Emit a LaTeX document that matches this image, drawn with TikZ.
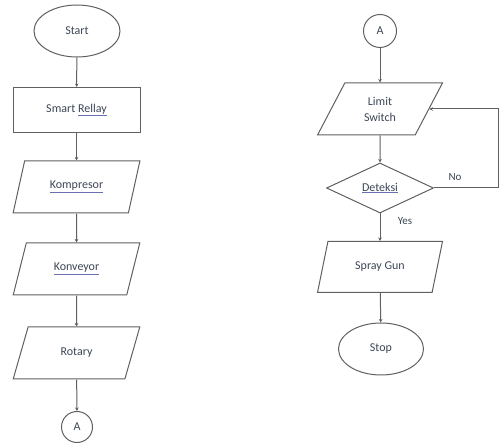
\documentclass[tikz,border=0pt]{standalone}
\usepackage{fontspec}
\setmainfont{Carlito}
\usetikzlibrary{shapes.geometric,arrows.meta}
\definecolor{txt}{HTML}{3C4656}
\definecolor{ln}{HTML}{606060}
\definecolor{ulc}{HTML}{6A6FB0}
\newcommand\spl[1]{{\color{ulc}\underline{{\color{txt}#1}}}}
\begin{document}
\begin{tikzpicture}[x=1pt,y=1pt,
  base/.style={draw=ln,line width=1pt,text=txt,font=\fontsize{12}{14}\selectfont,align=center,inner sep=0pt},
  term/.style={base,ellipse,minimum width=86pt,minimum height=52pt},
  proc/.style={base,rectangle,minimum width=127pt,minimum height=45pt},
  io/.style={base,trapezium,trapezium left angle=63,trapezium right angle=117,trapezium stretches=true,minimum width=127pt,minimum height=52pt},
  dec/.style={base,diamond,minimum width=107pt,minimum height=50pt},
  conn/.style={base,circle,minimum size=33pt},
  arr/.style={draw=ln,line width=1pt,-{Stealth[length=3.5pt,width=3.5pt]}},
  lbl/.style={text=txt,font=\fontsize{11}{13}\selectfont,inner sep=0pt}]
\useasboundingbox (0,0) rectangle (500,444);
% left column
\node[term] (start) at (77,413) {Start};
\node[proc] (smart) at (76.5,334) {Smart \spl{Rellay}};
\node[io] (komp) at (76.5,257) {\spl{Kompresor}};
\node[io] (konv) at (76.5,175) {\spl{Konveyor}};
\node[io] (rot) at (76.5,91) {Rotary};
\node[conn,minimum size=31pt] (a1) at (77,17) {A};
\draw[arr] (start) -- (smart);
\draw[arr] (smart) -- (komp);
\draw[arr] (komp) -- (konv);
\draw[arr] (konv) -- (rot);
\draw[arr] (rot) -- (a1);
% right column
\node[conn] (a2) at (380,413) {A};
\node[io,minimum width=125pt] (lim) at (380,335) {Limit\\[2pt]Switch};
\node[dec] (det) at (380,256) {\spl{Deteksi}};
\node[io,minimum width=125pt,minimum height=51pt] (spray) at (380,177) {Spray Gun};
\node[term,minimum width=85pt] (stop) at (381,95) {Stop};
\coordinate (rx) at (498,0);
\draw[arr] (a2) -- (lim);
\draw[arr] (lim) -- (det);
\draw[arr] (det) -- (spray);
\draw[arr] (spray) -- (stop);
\draw[arr] (det.east) -- (det.east -| rx) |- (lim.east);
\node[lbl] (no) at (455,267) {No};
\node[lbl] (yes) at (405,223) {Yes};
\end{tikzpicture}
\end{document}
